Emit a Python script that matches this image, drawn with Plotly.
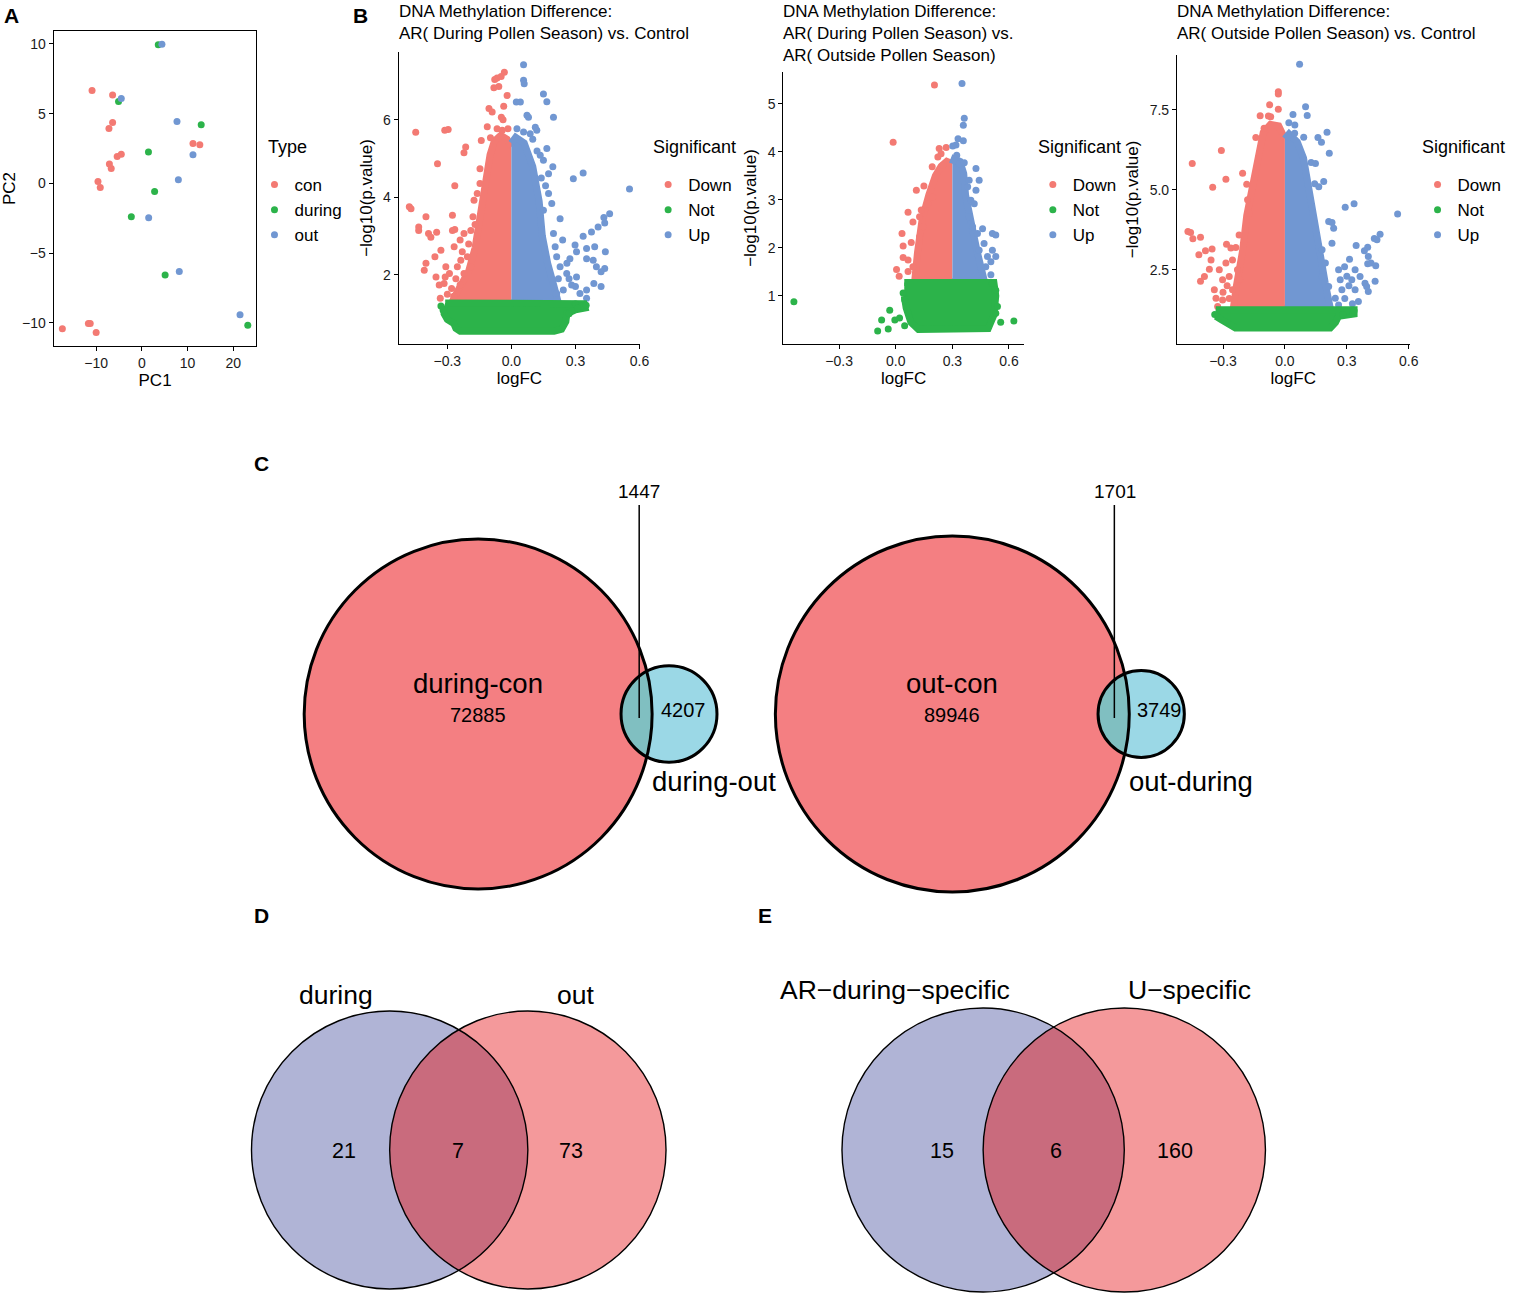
import numpy as np
import plotly.graph_objects as go

W, H = 1517, 1297
FONT = "Liberation Sans, Arial, Helvetica, sans-serif"
RED, GREEN, BLUE = "#F37A73", "#2CB34A", "#7197D2"
INK = "#1a1a1a"

# ---------------- Panel A : PCA ----------------
pca_con_x = [-10.9, -6.4, -6.4, -7.2, -5.4, -4.5, -7.1, -6.7, -9.6, -9.1, 11.2, 12.7, -17.4, -11.7, -11.3, -10.0]
pca_con_y = [6.67, 6.33, 4.36, 3.93, 1.92, 2.09, 1.39, 1.06, 0.14, -0.29, 2.85, 2.76, -10.43, -10.05, -10.05, -10.7]
pca_during_x = [3.6, -5.1, 13.0, 1.45, 2.8, -2.3, 5.1, 23.2]
pca_during_y = [9.95, 5.88, 4.2, 2.25, -0.58, -2.4, -6.57, -10.19]
pca_out_x = [4.4, -4.5, 7.7, 11.2, 8.0, 1.5, 8.2, 21.5]
pca_out_y = [9.98, 6.09, 4.44, 2.06, 0.26, -2.47, -6.33, -9.42]

# ---------------- Panel B : volcano plots ----------------
# B1: during vs control
v1_down_x = [-0.448, -0.478, -0.47, -0.434, -0.434, -0.40, -0.388, -0.377, -0.35, -0.346, -0.312, -0.296, -0.265, -0.40, -0.408,
             -0.358, -0.33, -0.353, -0.338, -0.333, -0.276, -0.276, -0.265, -0.214, -0.222, -0.175, -0.268, -0.24, -0.222, -0.19,
             -0.141, -0.147, -0.147, -0.105, -0.113, -0.09, -0.078, -0.067, -0.048, -0.033, -0.082, -0.059, -0.02, -0.036, -0.047,
             -0.039, -0.067, -0.043, -0.016, -0.098, -0.307, -0.29, -0.315, -0.253, -0.237, -0.206, -0.222, -0.19,
             -0.30, -0.28, -0.26, -0.31, -0.27, -0.24, -0.23, -0.20, -0.18, -0.16, -0.17]
v1_down_y = [5.68, 3.76, 3.71, 3.24, 3.15, 3.50, 3.07, 2.97, 3.10, 4.87, 5.73, 5.75, 4.30, 2.30, 2.12,
             2.47, 2.64, 1.95, 1.74, 1.40, 3.54, 3.15, 3.17, 5.30, 5.15, 3.93, 2.73, 2.90, 3.07, 3.15,
             5.47, 4.74, 4.36, 6.29, 5.82, 6.20, 7.04, 7.08, 7.12, 7.23, 6.83, 6.86, 6.63, 6.35, 6.07,
             6.00, 5.77, 5.73, 5.77, 5.54, 2.21, 2.04, 1.78, 2.21, 2.38, 2.47, 2.04, 2.21,
             1.50, 1.65, 1.90, 1.95, 1.45, 1.75, 2.60, 2.80, 3.50, 4.10, 3.30]
v1_up_x = [0.057, 0.057, 0.06, 0.023, 0.042, 0.073, 0.08, 0.15, 0.166, 0.197, 0.026, 0.057, 0.088, 0.119, 0.112, 0.166, 0.135,
           0.15, 0.194, 0.174, 0.29, 0.336, 0.553, 0.174, 0.189, 0.15, 0.46, 0.433, 0.437, 0.228, 0.406, 0.375, 0.336, 0.298,
           0.305, 0.352, 0.39, 0.44, 0.274, 0.352, 0.383, 0.398, 0.212, 0.205, 0.197, 0.228, 0.259, 0.305, 0.437, 0.42, 0.386,
           0.42, 0.352, 0.282, 0.243, 0.321, 0.352, 0.212, 0.16, 0.14, 0.12, 0.10, 0.24, 0.26, 0.27, 0.30, 0.22]
v1_up_y = [7.42, 7.02, 6.93, 6.46, 6.46, 6.12, 6.07, 6.67, 6.47, 6.07, 5.77, 5.69, 5.64, 5.73, 5.81, 5.26, 5.09,
           4.96, 4.79, 4.61, 4.48, 4.63, 4.22, 4.10, 3.84, 3.67, 3.58, 3.48, 3.34, 3.45, 3.24, 3.11, 3.00, 2.77,
           2.60, 2.68, 2.73, 2.60, 2.42, 2.42, 2.38, 2.21, 2.47, 2.73, 3.07, 2.21, 2.04, 1.95, 2.17, 2.08, 1.78,
           1.70, 1.61, 1.74, 1.61, 1.52, 1.40, 1.52, 4.30, 4.50, 5.20, 5.50, 2.90, 2.30, 1.90, 1.70, 1.90]
v1_not_x = [0.30, 0.33, 0.35, 0.31, -0.32, -0.33, 0.27]
v1_not_y = [1.25, 1.20, 1.22, 1.15, 1.10, 1.20, 1.00]
# envelopes of the dense point clouds
v1_down_env_x = [0, -0.28, -0.25, -0.20, -0.17, -0.155, -0.14, -0.12, -0.10, -0.08, -0.05, -0.02, 0]
v1_down_env_y = [1.28, 1.28, 1.60, 2.10, 2.70, 3.20, 3.90, 4.60, 5.10, 5.45, 5.60, 5.50, 5.30]
v1_up_env_x = [0, 0.22, 0.20, 0.17, 0.145, 0.13, 0.10, 0.06, 0.02, 0]
v1_up_env_y = [1.28, 1.28, 1.70, 2.30, 3.00, 3.90, 4.80, 5.40, 5.55, 5.40]
v1_not_env_x = [-0.31, 0.26, 0.34, 0.345, 0.30, 0.26, 0.255, 0.235, 0.20, -0.24, -0.26, -0.27, -0.30, -0.315, -0.315]
v1_not_env_y = [1.28, 1.28, 1.26, 1.15, 1.10, 1.00, 0.80, 0.60, 0.55, 0.55, 0.62, 0.75, 0.85, 1.00, 1.20]

# B2: during vs outside
v2_down_x = [0.205, -0.014, 0.23, 0.267, 0.24, 0.223, 0.193, 0.25, 0.109, 0.149, 0.196, 0.17, 0.065, 0.091, 0.126, 0.144,
             0.033, 0.039, 0.082, 0.126, 0.039, 0.065, 0.004, 0.018, 0.091, 0.065, 0.135]
v2_down_y = [5.39, 4.20, 4.07, 4.09, 3.96, 3.89, 3.69, 3.72, 3.20, 3.29, 3.06, 2.92, 2.74, 2.54, 2.65, 2.44,
             2.30, 2.04, 2.11, 2.23, 1.80, 1.75, 1.55, 1.41, 1.61, 1.51, 2.79]
v2_up_x = [0.351, 0.363, 0.358, 0.33, 0.358, 0.319, 0.302, 0.323, 0.337, 0.363, 0.425, 0.442, 0.389, 0.381, 0.425, 0.398,
           0.416, 0.389, 0.407, 0.46, 0.512, 0.53, 0.433, 0.468, 0.442, 0.486, 0.512, 0.53, 0.504, 0.477, 0.504]
v2_up_y = [5.42, 4.70, 4.55, 4.27, 4.23, 4.14, 4.12, 3.93, 3.75, 3.77, 3.65, 3.41, 3.41, 3.27, 3.20, 2.99,
           2.92, 2.65, 2.44, 2.40, 2.30, 2.27, 2.30, 2.09, 1.95, 1.82, 1.95, 1.82, 1.71, 1.61, 1.44]
v2_not_x = [-0.54, -0.032, -0.075, -0.096, -0.04, -0.005, 0.02, 0.047, 0.626, 0.556, 0.53, 0.539, 0.512, 0.53, 0.047, 0.039]
v2_not_y = [0.88, 0.70, 0.50, 0.27, 0.31, 0.50, 0.54, 0.38, 0.48, 0.45, 0.64, 0.78, 1.26, 1.12, 0.92, 1.06]
v2_down_env_x = [0.30, 0.10, 0.115, 0.14, 0.175, 0.21, 0.24, 0.27, 0.30]
v2_down_env_y = [1.30, 1.30, 1.90, 2.60, 3.10, 3.50, 3.70, 3.80, 3.75]
v2_up_env_x = [0.30, 0.47, 0.43, 0.39, 0.37, 0.36, 0.34, 0.31, 0.30]
v2_up_env_y = [1.30, 1.30, 1.95, 2.65, 3.10, 3.55, 3.80, 3.85, 3.75]
v2_not_env_x = [0.045, 0.52, 0.53, 0.52, 0.49, 0.12, 0.08, 0.055, 0.045]
v2_not_env_y = [1.28, 1.28, 1.00, 0.60, 0.32, 0.30, 0.45, 0.75, 1.00]

# B3: outside vs control
v3_down_x = [-0.032, -0.032, -0.074, -0.032, -0.12, -0.08, -0.069, -0.308, -0.449, -0.141, -0.101, -0.286, -0.35, -0.205,
             -0.185, -0.47, -0.457, -0.446, -0.409, -0.417, -0.385, -0.353, -0.358, -0.409, -0.39, -0.366, -0.283, -0.262,
             -0.238, -0.222, -0.342, -0.334, -0.302, -0.27, -0.318, -0.286, -0.254, -0.326, -0.302, -0.254, -0.173, -0.181,
             -0.30, -0.28, -0.27, -0.23, -0.22]
v3_down_y = [8.07, 8.00, 7.66, 7.52, 7.32, 7.31, 7.29, 6.23, 5.83, 6.64, 6.93, 5.33, 5.08, 5.52,
             5.18, 3.70, 3.67, 3.47, 3.52, 2.97, 3.10, 3.15, 2.81, 2.14, 2.29, 2.52, 3.30, 3.18,
             3.20, 3.59, 1.88, 1.61, 2.19, 2.29, 2.50, 2.71, 2.81, 1.35, 1.56, 1.88, 4.27, 4.69,
             1.80, 2.00, 1.60, 2.50, 2.20]
v3_up_x = [0.071, 0.10, 0.108, 0.039, 0.019, 0.048, 0.047, 0.091, 0.16, 0.177, 0.204, 0.215, 0.127, 0.148, 0.188, 0.144,
           0.164, 0.292, 0.335, 0.546, 0.212, 0.228, 0.236, 0.228, 0.461, 0.433, 0.446, 0.345, 0.401, 0.385, 0.404, 0.401,
           0.417, 0.44, 0.313, 0.289, 0.34, 0.364, 0.324, 0.26, 0.268, 0.276, 0.34, 0.388, 0.437, 0.396, 0.404, 0.356,
           0.327, 0.244, 0.212, 0.18, 0.196, 0.18, 0.30, 0.31, 0.29, 0.26]
v3_up_y = [8.93, 7.60, 7.33, 7.36, 7.10, 7.03, 6.77, 6.65, 6.64, 6.49, 6.80, 6.15, 5.86, 5.83, 5.26, 5.19,
           5.10, 4.46, 4.57, 4.25, 4.01, 3.98, 3.80, 3.33, 3.61, 3.48, 3.44, 3.26, 3.21, 3.10, 2.92, 2.69,
           2.71, 2.63, 2.83, 2.60, 2.50, 2.29, 2.19, 2.50, 2.19, 1.88, 1.88, 2.08, 2.14, 1.98, 1.82, 1.51,
           1.44, 1.61, 1.98, 2.29, 2.71, 3.13, 2.30, 2.00, 1.60, 1.40]
v3_not_x = [0.30, 0.33, 0.335, -0.34, 0.28]
v3_not_y = [1.20, 1.15, 1.22, 1.10, 1.10]
v3_down_env_x = [0, -0.25, -0.235, -0.205, -0.185, -0.155, -0.125, -0.105, -0.07, -0.03, 0]
v3_down_env_y = [1.30, 1.30, 2.00, 3.10, 4.20, 5.20, 6.20, 6.80, 7.05, 7.00, 6.60]
v3_up_env_x = [0, 0.22, 0.195, 0.17, 0.145, 0.115, 0.09, 0.06, 0.02, 0]
v3_up_env_y = [1.30, 1.30, 2.10, 3.10, 4.10, 5.20, 6.00, 6.50, 6.75, 6.60]
v3_not_env_x = [-0.335, 0.335, 0.335, 0.26, 0.245, 0.22, -0.24, -0.28, -0.31, -0.335]
v3_not_env_y = [1.25, 1.25, 1.12, 1.05, 0.85, 0.68, 0.68, 0.80, 0.95, 1.05]

volcano_titles = ["DNA Methylation Difference:<br>AR( During Pollen Season) vs. Control",
                  "DNA Methylation Difference:<br>AR( During Pollen Season) vs.<br>AR( Outside Pollen Season)",
                  "DNA Methylation Difference:<br>AR( Outside Pollen Season) vs. Control"]
sig_labels = ["Down", "Not", "Up"]

# ---------------- Panel C : proportional Venn ----------------
c1_names = ["during-con", "during-out"]
c1_only = [72885, 4207]
c1_shared = 1447
c2_names = ["out-con", "out-during"]
c2_only = [89946, 3749]
c2_shared = 1701

# ---------------- Panels D/E : two-set Venn ----------------
d_names = ["during", "out"]
d_counts = [21, 7, 73]
e_names = ["AR\u2212during\u2212specific", "U\u2212specific"]
e_counts = [15, 6, 160]

# =====================================================================
def dx(a, b):
    return [a / W, b / W]

def dy(top, bottom):
    return [1 - bottom / H, 1 - top / H]

fig = go.Figure()

# Panel A traces
for nm, xs, ys, col in [("con", pca_con_x, pca_con_y, RED),
                        ("during", pca_during_x, pca_during_y, GREEN),
                        ("out", pca_out_x, pca_out_y, BLUE)]:
    fig.add_trace(go.Scatter(x=xs, y=ys, mode="markers", name=nm,
                             marker=dict(color=col, size=7), xaxis="x", yaxis="y",
                             legend="legend", hoverinfo="skip"))

volc = [
    (v1_down_x, v1_down_y, v1_up_x, v1_up_y, v1_not_x, v1_not_y,
     v1_down_env_x, v1_down_env_y, v1_up_env_x, v1_up_env_y, v1_not_env_x, v1_not_env_y),
    (v2_down_x, v2_down_y, v2_up_x, v2_up_y, v2_not_x, v2_not_y,
     v2_down_env_x, v2_down_env_y, v2_up_env_x, v2_up_env_y, v2_not_env_x, v2_not_env_y),
    (v3_down_x, v3_down_y, v3_up_x, v3_up_y, v3_not_x, v3_not_y,
     v3_down_env_x, v3_down_env_y, v3_up_env_x, v3_up_env_y, v3_not_env_x, v3_not_env_y),
]
for i, v in enumerate(volc):
    xa, ya = f"x{i+2}", f"y{i+2}"
    lg = f"legend{i+2}"
    (dnx, dny, upx, upy, ntx, nty, dex, dey, uex, uey, nex, ney) = v
    for ex, ey, col in [(dex, dey, RED), (uex, uey, BLUE)]:
        fig.add_trace(go.Scatter(x=ex, y=ey, mode="lines", fill="toself", fillcolor=col,
                                 line=dict(color=col, width=7), xaxis=xa, yaxis=ya,
                                 showlegend=False, hoverinfo="skip"))
    fig.add_trace(go.Scatter(x=dnx, y=dny, mode="markers", name="Down", legendrank=1,
                             marker=dict(color=RED, size=7), xaxis=xa, yaxis=ya, legend=lg, hoverinfo="skip"))
    fig.add_trace(go.Scatter(x=upx, y=upy, mode="markers", name="Up", legendrank=3,
                             marker=dict(color=BLUE, size=7), xaxis=xa, yaxis=ya, legend=lg, hoverinfo="skip"))
    fig.add_trace(go.Scatter(x=nex, y=ney, mode="lines", fill="toself", fillcolor=GREEN,
                             line=dict(color=GREEN, width=7), xaxis=xa, yaxis=ya,
                             showlegend=False, hoverinfo="skip"))
    fig.add_trace(go.Scatter(x=ntx, y=nty, mode="markers", name="Not", legendrank=2,
                             marker=dict(color=GREEN, size=7), xaxis=xa, yaxis=ya, legend=lg, hoverinfo="skip"))

tickfont = dict(family=FONT, size=14, color=INK)
titlefont = dict(family=FONT, size=17, color="black")
ax_common = dict(showline=True, linecolor="black", linewidth=1.1, ticks="outside", ticklen=4,
                 tickwidth=1.1, tickcolor="black", showgrid=False, zeroline=False,
                 tickfont=tickfont, fixedrange=True)

layout = dict(
    width=W, height=H, margin=dict(l=0, r=0, t=0, b=0, pad=0),
    paper_bgcolor="white", plot_bgcolor="rgba(0,0,0,0)",
    font=dict(family=FONT, color="black"),
    xaxis=dict(domain=dx(54, 258), range=[-19.3, 25.1], tickvals=[-10, 0, 10, 20], anchor="y", mirror=True,
               title=dict(text="PC1", font=titlefont, standoff=3), **ax_common),
    yaxis=dict(domain=dy(31, 346), range=[-11.67, 10.93], tickvals=[-10, -5, 0, 5, 10], anchor="x", mirror=True,
               title=dict(text="PC2", font=titlefont, standoff=5), **ax_common),
    xaxis2=dict(domain=dx(401, 644), range=[-0.528, 0.603], tickvals=[-0.3, 0, 0.3, 0.6], tickformat=".1f",
                anchor="y2", title=dict(text="logFC", font=titlefont, standoff=3), **ax_common),
    yaxis2=dict(domain=dy(52, 344), range=[0.22, 7.75], tickvals=[2, 4, 6], anchor="x2",
                title=dict(text="\u2212log10(p.value)", font=titlefont, standoff=6), **ax_common),
    xaxis3=dict(domain=dx(788, 1030), range=[-0.596, 0.679], tickvals=[-0.3, 0, 0.3, 0.6], tickformat=".1f",
                anchor="y3", title=dict(text="logFC", font=titlefont, standoff=3), **ax_common),
    yaxis3=dict(domain=dy(72, 344), range=[0.0, 5.66], tickvals=[1, 2, 3, 4, 5], anchor="x3",
                title=dict(text="\u2212log10(p.value)", font=titlefont, standoff=6), **ax_common),
    xaxis4=dict(domain=dx(1184, 1418), range=[-0.523, 0.604], tickvals=[-0.3, 0, 0.3, 0.6], tickformat=".1f",
                anchor="y4", title=dict(text="logFC", font=titlefont, standoff=3), **ax_common),
    yaxis4=dict(domain=dy(55, 344), range=[0.18, 9.22], tickvals=[2.5, 5.0, 7.5], tickformat=".1f", anchor="x4",
                title=dict(text="\u2212log10(p.value)", font=titlefont, standoff=6), **ax_common),
    # pixel overlay axis for Venn diagrams and free text
    xaxis5=dict(domain=[0, 1], range=[0, W], visible=False, fixedrange=True, anchor="y5"),
    yaxis5=dict(domain=[0, 1], range=[H, 0], visible=False, fixedrange=True, anchor="x5"),
)
leg_common = dict(xanchor="left", yanchor="top", bgcolor="rgba(0,0,0,0)", borderwidth=0,
                  font=dict(family=FONT, size=17, color="black"), itemwidth=30, tracegroupgap=0,
                  itemsizing="trace", traceorder="normal")
for key, left in [("legend", 256), ("legend2", 652), ("legend3", 1039), ("legend4", 1426)]:
    layout[key] = dict(x=left / W, y=1 - 167 / H, **leg_common)
fig.update_layout(**layout)

ann = []
def txt(x, y, s, size, xanchor="center", yanchor="middle", bold=False, align="center"):
    ann.append(dict(x=x, y=y, xref="x5", yref="y5", text=f"<b>{s}</b>" if bold else s, showarrow=False,
                    xanchor=xanchor, yanchor=yanchor, align=align,
                    font=dict(family=FONT, size=size, color="black")))

for s, x, y in [("A", 2, 15), ("B", 353, 15), ("C", 253, 463), ("D", 253, 915), ("E", 761, 915)]:
    txt(x, y, s, 21, xanchor="left", bold=True)
for s, x in [("Type", 268), ("Significant", 655), ("Significant", 1042), ("Significant", 1428)]:
    txt(x, 147, s, 18, xanchor="left")
for s, x in zip(volcano_titles, [399, 786, 1182]):
    txt(x, 0, s, 17, xanchor="left", yanchor="top", align="left")

shapes = []
def lens(x1, y1, r1, x2, y2, r2, n=80):
    d = x2 - x1
    a = (d * d + r1 * r1 - r2 * r2) / (2 * d)
    h = np.sqrt(r1 * r1 - a * a)
    a1 = np.arctan2(h, a)
    a2 = np.arctan2(h, d - a)
    t1 = np.linspace(-a1, a1, n)
    t2 = np.linspace(np.pi - a2, np.pi + a2, n)
    px = np.concatenate([x1 + r1 * np.cos(t1), x2 + r2 * np.cos(t2)])
    py = np.concatenate([y1 + r1 * np.sin(t1), y2 + r2 * np.sin(t2)])
    return "M " + " L ".join(f"{u:.2f},{v:.2f}" for u, v in zip(px, py)) + " Z"

def circle(cx, cy, r, fill=None, lw=0, lc="black"):
    shapes.append(dict(type="circle", xref="x5", yref="y5", x0=cx - r, x1=cx + r, y0=cy - r, y1=cy + r,
                       fillcolor=fill if fill else "rgba(0,0,0,0)",
                       line=dict(width=lw, color=lc if lw else "rgba(0,0,0,0)"), layer="above"))

# Panel C (area proportional)
for (names, only, shared, cxb, cxs, cy, rbig, lab_x, line_x, numpos) in [
        (c1_names, c1_only, c1_shared, 481, 673, 714, 175, 643, 643, (688, 718)),
        (c2_names, c2_only, c2_shared, 958, 1148, 714, 178, 1122, 1121, (1166, 1198))]:
    k = rbig / np.sqrt(only[0] + shared)
    rs = k * np.sqrt(only[1] + shared)
    circle(cxb, cy, rbig, fill="#F47F82")
    circle(cxs, cy, rs, fill="#9BD8E6")
    shapes.append(dict(type="path", xref="x5", yref="y5", path=lens(cxb, cy, rbig, cxs, cy, rs),
                       fillcolor="#80BFC1", line=dict(width=0), layer="above"))
    circle(cxb, cy, rbig, lw=3)
    circle(cxs, cy, rs, lw=3)
    shapes.append(dict(type="line", xref="x5", yref="y5", x0=line_x, x1=line_x, y0=505, y1=718,
                       line=dict(width=1.5, color="black"), layer="above"))
    txt(cxb, cy - 31, names[0], 27.5)
    txt(cxb, cy + 1, f"{only[0]}", 20)
    txt(numpos[0], cy - 4, f"{only[1]}", 20)
    txt(numpos[1], cy + 67, names[1], 27.5)
    txt(lab_x, 491, f"{shared}", 19)

# Panels D and E
for (names, counts, cl, cr, cy, r, lab_pos, num_x) in [
        (d_names, d_counts, 392, 531, 1150, 139, [(338, 995), (579, 995)], [346, 461, 574]),
        (e_names, e_counts, 989, 1131, 1150, 142, [(900, 990), (1197, 990)], [948, 1062, 1182])]:
    circle(cl, cy, r, fill="#B0B4D6")
    circle(cr, cy, r, fill="#F4999B")
    shapes.append(dict(type="path", xref="x5", yref="y5", path=lens(cl, cy, r, cr, cy, r),
                       fillcolor="#C96B7D", line=dict(width=0), layer="above"))
    circle(cl, cy, r, lw=1.4)
    circle(cr, cy, r, lw=1.4)
    for (lx, ly), nm in zip(lab_pos, names):
        txt(lx, ly, nm, 26.5)
    for nx, c in zip(num_x, counts):
        txt(nx, cy + 1, f"{c}", 21.5)

fig.update_layout(annotations=ann, shapes=shapes)
fig.write_html("out.html", config={"displayModeBar": False},
               post_script="document.body.style.margin='0';document.body.style.overflow='hidden';")
